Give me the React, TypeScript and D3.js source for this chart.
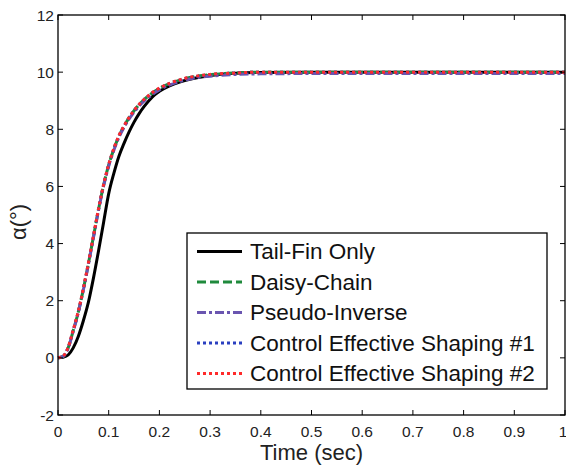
import * as d3 from "d3";

const W = 566;
const H = 466;
const M = { left: 58, right: 1, top: 15, bottom: 51 };

// time samples (sec)
const TIME = [0, 0.01, 0.02, 0.03, 0.04, 0.05, 0.06, 0.07, 0.08, 0.09, 0.1, 0.11, 0.12, 0.13, 0.14, 0.15, 0.16, 0.17, 0.18, 0.19, 0.2, 0.22, 0.24, 0.26, 0.28, 0.3, 0.35, 0.4, 0.5, 0.6, 0.8, 1.0];

// alpha (deg) per controller
const TAIL_FIN = [0, 0.02, 0.1, 0.35, 0.75, 1.3, 1.95, 2.8, 3.75, 4.75, 5.75, 6.45, 7.05, 7.5, 7.9, 8.25, 8.55, 8.8, 9.02, 9.2, 9.33, 9.52, 9.65, 9.75, 9.82, 9.88, 9.96, 9.99, 10, 10, 10, 10];
const DAISY = [0, 0.05, 0.35, 0.95, 1.6, 2.4, 3.3, 4.25, 5.2, 6.05, 6.75, 7.3, 7.75, 8.1, 8.4, 8.65, 8.86, 9.04, 9.19, 9.32, 9.43, 9.6, 9.72, 9.81, 9.87, 9.91, 9.97, 10, 10, 10, 10, 10];
const PSEUDO = [0, 0.05, 0.34, 0.93, 1.58, 2.38, 3.27, 4.22, 5.17, 6.02, 6.71, 7.26, 7.71, 8.06, 8.35, 8.6, 8.81, 8.99, 9.14, 9.27, 9.38, 9.55, 9.67, 9.76, 9.82, 9.86, 9.92, 9.94, 9.95, 9.95, 9.95, 9.95];
const CES1 = [0, 0.05, 0.36, 0.96, 1.61, 2.41, 3.31, 4.26, 5.21, 6.06, 6.76, 7.31, 7.76, 8.1, 8.4, 8.65, 8.86, 9.04, 9.19, 9.32, 9.43, 9.6, 9.72, 9.81, 9.87, 9.91, 9.97, 10, 10, 10, 10, 10];
const CES2 = [0, 0.06, 0.37, 0.98, 1.63, 2.43, 3.33, 4.28, 5.22, 6.07, 6.77, 7.32, 7.77, 8.11, 8.41, 8.66, 8.87, 9.05, 9.2, 9.33, 9.44, 9.61, 9.73, 9.82, 9.88, 9.92, 9.97, 10, 10, 10, 10, 10];

const X_TICKS = [0, 0.1, 0.2, 0.3, 0.4, 0.5, 0.6, 0.7, 0.8, 0.9, 1];
const Y_TICKS = [-2, 0, 2, 4, 6, 8, 10, 12];

const SERIES = [
  { name: "Tail-Fin Only", values: TAIL_FIN, color: "#000000", dash: "", width: 3 },
  { name: "Daisy-Chain", values: DAISY, color: "#1f8a3c", dash: "9,4", width: 3 },
  { name: "Pseudo-Inverse", values: PSEUDO, color: "#6a55b0", dash: "9,3,3,3", width: 3 },
  { name: "Control Effective Shaping #1", values: CES1, color: "#2a3fc0", dash: "3,3", width: 3 },
  { name: "Control Effective Shaping #2", values: CES2, color: "#ff2a2a", dash: "3,3", width: 3 },
];

const FONT = "'Liberation Sans', Arial, sans-serif";

export default function App() {
  const x = d3.scaleLinear().domain([0, 1]).range([M.left, W - M.right]);
  const y = d3.scaleLinear().domain([-2, 12]).range([H - M.bottom, M.top]);

  const line = d3
    .line<[number, number]>()
    .x((d) => x(d[0]))
    .y((d) => y(d[1]))
    .curve(d3.curveMonotoneX);

  const x0 = x(0), x1 = x(1), y0 = y(-2), y1 = y(12);
  const tl = 5;

  // legend box
  const lg = { x: 187, y: 233, w: 360, h: 156, row: 30.5 };

  return (
    <svg width={W} height={H} style={{ position: "absolute", left: 0, top: 0, background: "#fff" }} fontFamily={FONT}>
      <rect x={0} y={0} width={W} height={H} fill="#fff" />
      <g>
        {SERIES.map((s, i) => (
          <path
            key={i}
            d={line(TIME.map((t, j) => [t, s.values[j]] as [number, number])) || ""}
            fill="none"
            stroke={s.color}
            strokeWidth={s.width}
            strokeDasharray={s.dash}
          />
        ))}
      </g>
      {/* frame */}
      <rect x={x0} y={y1} width={x1 - x0} height={y0 - y1} fill="none" stroke="#000" strokeWidth={1.3} />
      {X_TICKS.map((v, i) => (
        <g key={"x" + i}>
          <line x1={x(v)} x2={x(v)} y1={y0} y2={y0 - tl} stroke="#000" />
          <line x1={x(v)} x2={x(v)} y1={y1} y2={y1 + tl} stroke="#000" />
          <text x={i === X_TICKS.length - 1 ? x(v) - 2 : x(v)} y={431} textAnchor="middle" dominantBaseline="central" fontSize={15.5} fill="#222">
            {v}
          </text>
        </g>
      ))}
      {Y_TICKS.map((v, i) => (
        <g key={"y" + i}>
          <line x1={x0} x2={x0 + tl} y1={y(v)} y2={y(v)} stroke="#000" />
          <line x1={x1} x2={x1 - tl} y1={y(v)} y2={y(v)} stroke="#000" />
          <text x={x0 - 4} y={y(v)} textAnchor="end" dominantBaseline="central" fontSize={15.5} fill="#222">
            {v}
          </text>
        </g>
      ))}
      <text x={(x0 + x1) / 2} y={452} textAnchor="middle" dominantBaseline="central" fontSize={22} fill="#222">
        Time (sec)
      </text>
      <text transform={`translate(18, 222) rotate(-90)`} textAnchor="middle" dominantBaseline="central" fontSize={22} fill="#222">
        α(°)
      </text>
      {/* legend */}
      <rect x={lg.x} y={lg.y} width={lg.w} height={lg.h} fill="#fff" stroke="#000" strokeWidth={1.3} />
      {SERIES.map((s, i) => {
        const cy = lg.y + 18.5 + i * lg.row;
        return (
          <g key={"l" + i}>
            <line x1={lg.x + 10} x2={lg.x + 55} y1={cy} y2={cy} stroke={s.color} strokeWidth={s.width} strokeDasharray={s.dash} />
            <text x={lg.x + 63} y={cy} dominantBaseline="central" fontSize={22.5} fill="#111">
              {s.name}
            </text>
          </g>
        );
      })}
    </svg>
  );
}
